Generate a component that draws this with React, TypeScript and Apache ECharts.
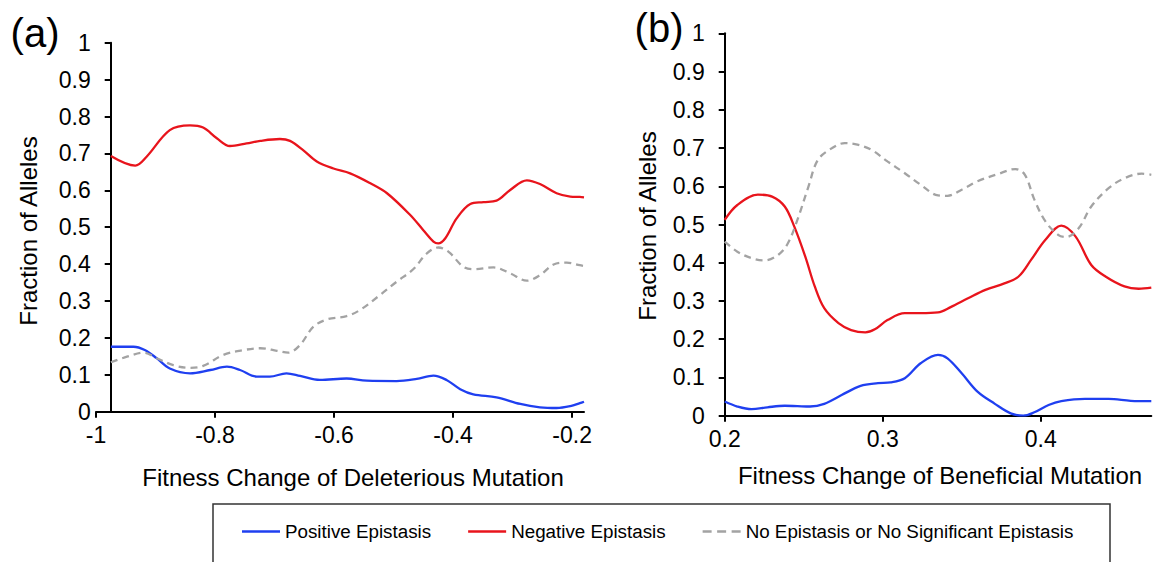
import React, { useEffect, useRef } from "react";
import * as echarts from "echarts";

// Panel (a): Fitness change of deleterious mutation
const posAx = [-0.975, -0.937, -0.918, -0.898, -0.876, -0.842, -0.808, -0.78, -0.758, -0.73, -0.708, -0.68, -0.657, -0.624, -0.579, -0.545, -0.495, -0.461, -0.433, -0.411, -0.388, -0.366, -0.327, -0.287, -0.254, -0.226, -0.203, -0.187, -0.18];
const posAy = [0.176, 0.176, 0.167, 0.145, 0.117, 0.104, 0.113, 0.122, 0.113, 0.095, 0.095, 0.104, 0.097, 0.086, 0.09, 0.084, 0.083, 0.089, 0.098, 0.086, 0.061, 0.047, 0.039, 0.021, 0.012, 0.01, 0.015, 0.023, 0.027];

const negAx = [-0.975, -0.934, -0.915, -0.876, -0.842, -0.82, -0.797, -0.775, -0.747, -0.724, -0.691, -0.674, -0.652, -0.629, -0.601, -0.573, -0.539, -0.511, -0.472, -0.45, -0.433, -0.425, -0.413, -0.394, -0.371, -0.349, -0.327, -0.304, -0.276, -0.254, -0.226, -0.203, -0.187, -0.18];
const negAy = [0.693, 0.667, 0.691, 0.763, 0.776, 0.77, 0.741, 0.72, 0.727, 0.734, 0.739, 0.734, 0.709, 0.678, 0.659, 0.646, 0.619, 0.592, 0.533, 0.492, 0.461, 0.456, 0.47, 0.524, 0.563, 0.568, 0.572, 0.601, 0.627, 0.617, 0.592, 0.583, 0.582, 0.581];

const noneAx = [-0.975, -0.948, -0.92, -0.898, -0.87, -0.842, -0.82, -0.786, -0.752, -0.724, -0.696, -0.677, -0.657, -0.635, -0.612, -0.579, -0.556, -0.523, -0.495, -0.467, -0.444, -0.425, -0.408, -0.383, -0.366, -0.332, -0.304, -0.276, -0.254, -0.231, -0.209, -0.187, -0.18];
const noneAy = [0.134, 0.149, 0.16, 0.145, 0.126, 0.119, 0.124, 0.154, 0.167, 0.172, 0.165, 0.16, 0.181, 0.23, 0.25, 0.259, 0.276, 0.316, 0.352, 0.386, 0.429, 0.445, 0.434, 0.393, 0.386, 0.391, 0.375, 0.355, 0.37, 0.399, 0.404, 0.397, 0.395];

// Panel (b): Fitness change of beneficial mutation
const posBx = [0.2, 0.208, 0.217, 0.227, 0.238, 0.246, 0.254, 0.263, 0.274, 0.286, 0.297, 0.305, 0.314, 0.324, 0.335, 0.341, 0.35, 0.36, 0.371, 0.381, 0.389, 0.396, 0.405, 0.413, 0.428, 0.443, 0.457, 0.47];
const posBy = [0.037, 0.024, 0.017, 0.022, 0.026, 0.025, 0.024, 0.031, 0.054, 0.078, 0.085, 0.087, 0.098, 0.137, 0.159, 0.15, 0.111, 0.063, 0.031, 0.006, 0.0, 0.009, 0.028, 0.038, 0.044, 0.044, 0.039, 0.038];

const negBx = [0.2, 0.208, 0.221, 0.23, 0.238, 0.244, 0.251, 0.257, 0.263, 0.272, 0.28, 0.289, 0.295, 0.303, 0.314, 0.324, 0.335, 0.343, 0.354, 0.365, 0.377, 0.386, 0.394, 0.403, 0.413, 0.422, 0.432, 0.441, 0.453, 0.462, 0.47];
const negBy = [0.512, 0.551, 0.578, 0.573, 0.547, 0.495, 0.416, 0.338, 0.281, 0.242, 0.224, 0.218, 0.226, 0.25, 0.268, 0.268, 0.27, 0.284, 0.307, 0.329, 0.346, 0.364, 0.408, 0.46, 0.497, 0.469, 0.394, 0.364, 0.338, 0.332, 0.335];

const noneBx = [0.2, 0.208, 0.217, 0.225, 0.234, 0.24, 0.246, 0.253, 0.259, 0.268, 0.276, 0.284, 0.293, 0.303, 0.314, 0.324, 0.335, 0.341, 0.35, 0.36, 0.373, 0.384, 0.39, 0.396, 0.403, 0.411, 0.416, 0.424, 0.432, 0.443, 0.453, 0.464, 0.47];
const noneBy = [0.455, 0.429, 0.412, 0.406, 0.421, 0.451, 0.512, 0.599, 0.669, 0.7, 0.713, 0.709, 0.695, 0.665, 0.634, 0.604, 0.576, 0.575, 0.591, 0.613, 0.632, 0.645, 0.63, 0.565, 0.508, 0.473, 0.467, 0.49, 0.547, 0.595, 0.621, 0.633, 0.63];

const xTicksA = [-1, -0.8, -0.6, -0.4, -0.2];
const xTicksB = [0.2, 0.3, 0.4];

const seriesNames = ["Positive Epistasis", "Negative Epistasis", "No Epistasis or No Significant Epistasis"];
const panelLabels = ["(a)", "(b)"];
const xTitles = ["Fitness Change of Deleterious Mutation", "Fitness Change of Beneficial Mutation"];
const yTitle = "Fraction of Alleles";

const FONT = "'Liberation Sans', Arial, Helvetica, sans-serif";
const BLUE = "#1f3ff0";
const RED = "#e8141c";
const GRAY = "#a3a3a3";

const SOLID_ICON = "path://M0 0H38V2.5H0Z";
const DASH_ICON = "path://M0 0H9V2.5H0Z M14.5 0H23.5V2.5H14.5Z M29 0H38V2.5H29Z";

const pairs = (xs: number[], ys: number[]) => xs.map((x, i) => [x, ys[i]]);

export default function App() {
  const ref = useRef<HTMLDivElement>(null);
  useEffect(() => {
    if (!ref.current) return;
    const chart = echarts.init(ref.current, undefined, { renderer: "svg" });

    const axisLine = { show: true, lineStyle: { color: "#000", width: 2 } };
    const axisTick = { show: true, length: 6, lineStyle: { color: "#000", width: 2 } };
    const labelStyle = { color: "#000", fontSize: 23, fontFamily: FONT };

    const mkX = (min: number, max: number, interval: number, ticks: number[], grid: number) => ({
      type: "value",
      gridIndex: grid,
      min,
      max,
      interval,
      splitLine: { show: false },
      axisLine: { ...axisLine, onZero: false },
      axisTick: { ...axisTick, customValues: ticks },
      axisLabel: { ...labelStyle, margin: 12, customValues: ticks },
    });
    const mkY = (grid: number, offset: number) => ({
      type: "value",
      gridIndex: grid,
      min: 0,
      max: 1,
      interval: 0.1,
      offset,
      splitLine: { show: false },
      axisLine: { ...axisLine, onZero: false },
      axisTick,
      axisLabel: { ...labelStyle, margin: 20 },
    });

    const mkSeries = (name: string, data: number[][], color: string, grid: number, dashed: boolean) => ({
      type: "line",
      name,
      xAxisIndex: grid,
      yAxisIndex: grid,
      data,
      smooth: 0.35,
      symbol: "none",
      clip: true,
      lineStyle: { color, width: 2.3, type: dashed ? [7, 5] : "solid" },
      itemStyle: { color },
    });

    const text = (t: string, x: number, y: number, size: number, rotation = 0) => ({
      type: "text",
      x,
      y,
      rotation,
      style: {
        text: t,
        fill: "#000",
        fontSize: size,
        fontFamily: FONT,
        align: "center",
        verticalAlign: "middle",
      },
    });

    chart.setOption({
      animation: false,
      backgroundColor: "#fff",
      grid: [
        { left: 96, top: 42.7, width: 488, height: 369 },
        { left: 724.7, top: 33.3, width: 426.6, height: 382.4 },
      ],
      xAxis: [mkX(-1, -0.18, 0.2, xTicksA, 0), mkX(0.2, 0.47, 0.1, xTicksB, 1)],
      yAxis: [mkY(0, -14.7), mkY(1, 0)],
      legend: {
        left: 242,
        top: 522,
        padding: 0,
        itemWidth: 38,
        itemHeight: 2.5,
        itemGap: 37,
        data: [
          { name: seriesNames[0], icon: SOLID_ICON },
          { name: seriesNames[1], icon: SOLID_ICON },
          { name: seriesNames[2], icon: DASH_ICON },
        ],
        textStyle: { color: "#000", fontSize: 18.8, fontFamily: FONT },
        selectedMode: false,
      },
      series: [
        mkSeries(seriesNames[0], pairs(posAx, posAy), BLUE, 0, false),
        mkSeries(seriesNames[1], pairs(negAx, negAy), RED, 0, false),
        mkSeries(seriesNames[2], pairs(noneAx, noneAy), GRAY, 0, true),
        mkSeries(seriesNames[0], pairs(posBx, posBy), BLUE, 1, false),
        mkSeries(seriesNames[1], pairs(negBx, negBy), RED, 1, false),
        mkSeries(seriesNames[2], pairs(noneBx, noneBy), GRAY, 1, true),
      ],
      graphic: [
        text(panelLabels[0], 35, 33, 40),
        text(panelLabels[1], 659, 28, 40),
        text(xTitles[0], 353, 477, 24),
        text(xTitles[1], 940, 475, 24),
        text(yTitle, 28, 231, 24, Math.PI / 2),
        text(yTitle, 647, 226, 24, Math.PI / 2),
        {
          type: "rect",
          shape: { x: 213, y: 504, width: 897, height: 80 },
          style: { fill: "none", stroke: "#333", lineWidth: 1.5 },
        },
      ],
    });
    return () => chart.dispose();
  }, []);
  return (
    <div
      ref={ref}
      style={{ position: "fixed", left: 0, top: 0, width: 1158, height: 562, background: "#fff" }}
    />
  );
}
